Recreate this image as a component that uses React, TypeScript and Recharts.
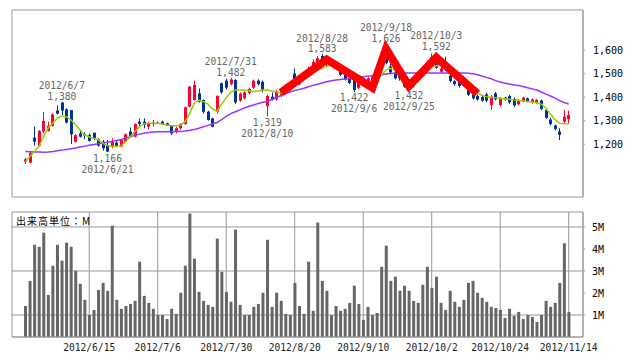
import { ComposedChart, Bar, Line, XAxis, YAxis, CartesianGrid, ReferenceDot } from 'recharts'

// trading days, 2012/5/28 - 2012/11/14
const monthDays: [number, number[]][] = [
  [5, [28, 29, 30, 31]],
  [6, [1, 4, 5, 6, 7, 8, 11, 12, 13, 14, 15, 18, 19, 20, 21, 22, 25, 26, 27, 28, 29]],
  [7, [2, 3, 4, 5, 6, 9, 10, 11, 12, 13, 17, 18, 19, 20, 23, 24, 25, 26, 27, 30, 31]],
  [8, [1, 2, 3, 6, 7, 8, 9, 10, 13, 14, 15, 16, 17, 20, 21, 22, 23, 24, 27, 28, 29, 30, 31]],
  [9, [3, 4, 5, 6, 7, 10, 11, 12, 13, 14, 18, 19, 20, 21, 24, 25, 26, 27, 28]],
  [10, [1, 2, 3, 4, 5, 9, 10, 11, 12, 15, 16, 17, 18, 19, 22, 23, 24, 25, 26, 29, 30, 31]],
  [11, [1, 2, 5, 6, 7, 8, 9, 12, 13, 14]],
]
const dates = monthDays.flatMap(([m, ds]) => ds.map((d) => `2012/${m}/${d}`))

const tickDates = ['2012/6/15', '2012/7/6', '2012/7/30', '2012/8/20', '2012/9/10', '2012/10/2', '2012/10/24', '2012/11/14']
const priceTicks = [1200, 1300, 1400, 1500, 1600]
const volTicks = [1, 2, 3, 4, 5]

const opens = [
  1125, 1122, 1228, 1194, 1254, 1256, 1278, 1343, 1377, 1348,
  1345, 1211, 1246, 1243, 1239, 1249, 1221, 1211, 1197, 1190,
  1207, 1190, 1211, 1254, 1232, 1296, 1296, 1275, 1285, 1292,
  1296, 1289, 1278, 1254, 1268, 1286, 1360, 1388, 1416, 1388,
  1338, 1310, 1338, 1459, 1470, 1455, 1473, 1385, 1395, 1418,
  1440, 1470, 1465, 1362, 1402, 1390, 1405, 1420, 1430, 1500,
  1455, 1480, 1495, 1520, 1545, 1575, 1555, 1540, 1545, 1515,
  1495, 1480, 1500, 1440, 1455, 1460, 1470, 1480, 1520, 1590,
  1530, 1505, 1500, 1470, 1455, 1445, 1470, 1495, 1520, 1545,
  1550, 1508, 1535, 1490, 1468, 1465, 1485, 1440, 1412, 1405,
  1400, 1412, 1367, 1416, 1367, 1398, 1405, 1392, 1370, 1384,
  1395, 1378, 1376, 1386, 1345, 1305, 1280, 1254, 1296, 1306,
]
const highs = [
  1143, 1169, 1275, 1260, 1337, 1296, 1331, 1365, 1380, 1353,
  1345, 1242, 1256, 1250, 1246, 1249, 1225, 1218, 1218, 1225,
  1218, 1221, 1246, 1271, 1289, 1310, 1310, 1296, 1303, 1296,
  1300, 1292, 1282, 1275, 1289, 1360, 1447, 1470, 1437, 1390,
  1342, 1312, 1408, 1462, 1478, 1482, 1476, 1420, 1425, 1440,
  1475, 1476, 1470, 1410, 1420, 1430, 1440, 1450, 1470, 1522,
  1490, 1510, 1530, 1560, 1575, 1583, 1560, 1560, 1550, 1520,
  1500, 1490, 1502, 1470, 1480, 1485, 1490, 1530, 1580, 1626,
  1540, 1510, 1505, 1480, 1470, 1480, 1510, 1525, 1555, 1585,
  1592, 1530, 1572, 1495, 1472, 1470, 1490, 1445, 1418, 1410,
  1405, 1418, 1409, 1422, 1400, 1402, 1410, 1398, 1392, 1402,
  1398, 1395, 1392, 1390, 1350, 1312, 1284, 1268, 1346, 1343,
]
const lows = [
  1116, 1119, 1194, 1190, 1246, 1254, 1275, 1326, 1324, 1289,
  1201, 1207, 1228, 1222, 1211, 1218, 1190, 1173, 1166, 1183,
  1190, 1187, 1207, 1229, 1229, 1275, 1268, 1263, 1275, 1285,
  1282, 1278, 1239, 1246, 1261, 1283, 1357, 1385, 1377, 1330,
  1300, 1272, 1330, 1415, 1432, 1450, 1370, 1380, 1390, 1412,
  1435, 1450, 1420, 1319, 1385, 1385, 1400, 1415, 1428, 1450,
  1450, 1475, 1490, 1515, 1540, 1545, 1530, 1535, 1515, 1490,
  1470, 1455, 1422, 1435, 1450, 1455, 1465, 1475, 1515, 1540,
  1500, 1475, 1470, 1440, 1432, 1440, 1465, 1490, 1515, 1540,
  1520, 1500, 1515, 1462, 1448, 1440, 1455, 1405, 1390, 1385,
  1380, 1378, 1346, 1386, 1360, 1385, 1372, 1358, 1365, 1378,
  1378, 1372, 1372, 1346, 1308, 1280, 1258, 1218, 1289, 1289,
]
const closes = [
  1136, 1162, 1211, 1256, 1299, 1279, 1327, 1330, 1343, 1292,
  1242, 1239, 1232, 1237, 1214, 1225, 1194, 1183, 1169, 1211,
  1193, 1218, 1242, 1232, 1286, 1286, 1282, 1289, 1292, 1290,
  1286, 1280, 1246, 1268, 1286, 1357, 1445, 1452, 1381, 1338,
  1303, 1275, 1405, 1420, 1440, 1475, 1378, 1415, 1420, 1435,
  1470, 1455, 1430, 1405, 1392, 1425, 1430, 1445, 1460, 1460,
  1480, 1500, 1520, 1550, 1565, 1555, 1540, 1550, 1520, 1495,
  1475, 1460, 1430, 1465, 1470, 1480, 1485, 1520, 1570, 1545,
  1505, 1480, 1480, 1445, 1440, 1470, 1500, 1520, 1545, 1570,
  1525, 1522, 1520, 1468, 1455, 1448, 1460, 1410, 1395, 1390,
  1385, 1385, 1402, 1391, 1395, 1390, 1378, 1365, 1386, 1398,
  1383, 1390, 1388, 1350, 1312, 1286, 1265, 1240, 1317, 1324,
]
const ma5 = [
  1126, 1147, 1169, 1190, 1232, 1268, 1289, 1310, 1320, 1317,
  1303, 1282, 1261, 1239, 1232, 1225, 1218, 1204, 1194, 1190,
  1190, 1193, 1211, 1232, 1254, 1275, 1286, 1289, 1289, 1289,
  1286, 1282, 1278, 1278, 1282, 1296, 1331, 1374, 1388, 1381,
  1370, 1350, 1340, 1370, 1398, 1420, 1430, 1430, 1430, 1427,
  1424, 1426, 1430, 1430, 1426, 1423, 1418, 1425, 1440, 1455,
  1466, 1478, 1488, 1502, 1515, 1522, 1530, 1536, 1543, 1530,
  1515, 1508, 1495, 1487, 1475, 1466, 1462, 1473, 1495, 1515,
  1522, 1515, 1500, 1480, 1473, 1476, 1480, 1495, 1512, 1529,
  1533, 1536, 1526, 1515, 1500, 1487, 1470, 1452, 1435, 1416,
  1408, 1402, 1400, 1397, 1395, 1393, 1391, 1388, 1386, 1384,
  1381, 1379, 1376, 1370, 1353, 1328, 1305, 1289, 1287, 1286,
]
const ma25 = [
  1169, 1168, 1167, 1167, 1166, 1167, 1169, 1172, 1175, 1178,
  1181, 1184, 1188, 1192, 1196, 1199, 1202, 1205, 1208, 1212,
  1216, 1220, 1226, 1232, 1238, 1243, 1247, 1250, 1252, 1253,
  1253, 1253, 1253, 1254, 1254, 1256, 1259, 1263, 1268, 1274,
  1280, 1286, 1292, 1305, 1318, 1330, 1338, 1346, 1354, 1361,
  1367, 1373, 1378, 1382, 1390, 1398, 1407, 1415, 1422, 1428,
  1433, 1438, 1444, 1450, 1455, 1460, 1465, 1470, 1473, 1475,
  1477, 1479, 1481, 1484, 1487, 1489, 1491, 1493, 1495, 1498,
  1500, 1501, 1501, 1502, 1502, 1502, 1502, 1502, 1502, 1502,
  1502, 1502, 1502, 1502, 1502, 1502, 1502, 1501, 1499, 1495,
  1490, 1484, 1478, 1470, 1464, 1459, 1456, 1452, 1449, 1445,
  1440, 1435, 1430, 1422, 1413, 1405, 1396, 1385, 1377, 1371,
]
// volume, millions
const volumes = [
  1.41, 2.55, 4.19, 4.1, 4.74, 1.91, 3.24, 4.19, 3.47, 4.29,
  4.1, 3.01, 2.42, 1.69, 1.0, 1.23, 2.14, 2.46, 2.1, 5.06,
  1.69, 1.28, 1.41, 1.5, 1.64, 3.42, 1.87, 1.55, 1.28, 1.0,
  1.0, 0.82, 1.28, 1.05, 2.01, 3.24, 5.61, 3.56, 2.05, 1.64,
  1.46, 1.37, 4.47, 2.96, 2.05, 1.6, 4.88, 1.46, 1.0, 1.0,
  1.37, 1.5, 2.01, 4.42, 1.37, 2.01, 1.64, 1.05, 1.0, 2.46,
  1.41, 1.05, 3.42, 1.19, 5.2, 2.55, 2.1, 0.99, 1.41, 1.19,
  1.28, 1.55, 2.33, 1.5, 0.78, 1.37, 1.0, 1.09, 3.19, 4.15,
  2.55, 2.74, 2.1, 2.33, 2.1, 1.64, 1.55, 2.37, 3.19, 2.23,
  2.74, 1.55, 1.23, 2.1, 1.6, 1.37, 1.69, 2.46, 2.55, 2.01,
  1.78, 1.6, 1.37, 1.32, 1.23, 0.87, 1.28, 0.96, 1.14, 0.82,
  1.0, 0.91, 0.68, 1.0, 1.64, 1.37, 1.55, 2.46, 4.26, 1.14,
]

// hand drawn triple top line
const zigzag: Record<string, number> = {
  '2012/8/15': 1420,
  '2012/8/29': 1560,
  '2012/9/12': 1440,
  '2012/9/18': 1605,
  '2012/9/25': 1447,
  '2012/10/3': 1568,
  '2012/10/17': 1415,
}

const marks = [
  { date: '2012/6/7', value: 1380, kind: 'high' },
  { date: '2012/6/21', value: 1166, kind: 'low' },
  { date: '2012/7/31', value: 1482, kind: 'high' },
  { date: '2012/8/10', value: 1319, kind: 'low' },
  { date: '2012/8/28', value: 1583, kind: 'high' },
  { date: '2012/9/6', value: 1422, kind: 'low' },
  { date: '2012/9/18', value: 1626, kind: 'high' },
  { date: '2012/9/25', value: 1432, kind: 'low' },
  { date: '2012/10/3', value: 1592, kind: 'high' },
]

const UP = '#ff0033'
const DOWN = '#003399'
const GRID = '#999999'
const MONO = "'DejaVu Sans Mono', monospace"

const priceData = dates.map((date, i) => ({
  date,
  range: [lows[i], highs[i]],
  open: opens[i],
  high: highs[i],
  low: lows[i],
  close: closes[i],
  ma5: ma5[i],
  ma25: ma25[i],
  zz: zigzag[date] ?? null,
}))
const volData = dates.map((date, i) => ({ date, vol: volumes[i] }))

function Candle(props: any) {
  const { x, y, width, height, payload } = props
  const { open, close, high, low } = payload
  const top = Math.min(y, y + height)
  const h = Math.abs(height)
  const py = (v: number) => top + ((high - v) / (high - low || 1)) * h
  const cx = Math.floor(x + width / 2)
  const color = close >= open ? UP : DOWN
  const bt = py(Math.max(open, close))
  const bb = py(Math.min(open, close))
  return (
    <g>
      <rect x={cx} y={top} width={1} height={Math.max(1, h)} fill={color} />
      <rect x={cx - 1} y={bt} width={3} height={Math.max(1, bb - bt)} fill={color} />
    </g>
  )
}

function MarkLabel(props: any) {
  const { viewBox, date, value, kind } = props
  if (!viewBox) return null
  const cx = viewBox.x + viewBox.width / 2
  const cy = viewBox.y + viewBox.height / 2
  const num = value.toLocaleString('en-US')
  const style = { fontFamily: MONO, fontSize: 9.6, fill: '#666666' }
  const y1 = kind === 'high' ? cy - 12.5 : cy + 9.5
  const y2 = kind === 'high' ? cy - 2 : cy + 20.5
  return (
    <g>
      <text x={cx} y={y1} textAnchor="middle" style={style}>{kind === 'high' ? date : num}</text>
      <text x={cx} y={y2} textAnchor="middle" style={style}>{kind === 'high' ? num : date}</text>
    </g>
  )
}

const pad = { left: 11, right: 12 }

export default function App() {
  return (
    <div style={{ position: 'absolute', left: 0, top: 0, width: 638, height: 362, background: '#fff' }}>
      <div style={{ position: 'absolute', left: 0, top: 0 }}>
        <ComposedChart width={638} height={200} data={priceData} margin={{ top: 10, right: 0, bottom: 3, left: 12 }}>
          <CartesianGrid stroke={GRID} />
          <XAxis dataKey="date" ticks={tickDates} interval={0} padding={pad} height={0} tick={false} tickLine={false} axisLine={{ stroke: GRID }} />
          <XAxis xAxisId="top" dataKey="date" orientation="top" padding={pad} height={0} tick={false} tickLine={false} axisLine={{ stroke: GRID }} />
          <YAxis yAxisId="left" orientation="left" width={0} tick={false} tickLine={false} axisLine={{ stroke: GRID }} />
          <YAxis
            yAxisId="p"
            orientation="right"
            width={55}
            domain={[976, 1770]}
            ticks={priceTicks}
            tickFormatter={(v: number) => v.toLocaleString('en-US')}
            tickSize={2}
            tickMargin={8}
            tickLine={{ stroke: GRID }}
            axisLine={{ stroke: GRID }}
            tick={{ fontFamily: MONO, fontSize: 10, fill: '#000' }}
          />
          <Bar yAxisId="p" dataKey="range" barSize={3} shape={(p: any) => <Candle {...p} />} isAnimationActive={false} />
          <Line yAxisId="p" dataKey="ma25" stroke="#9933ff" strokeWidth={1.5} dot={false} type="linear" isAnimationActive={false} />
          <Line yAxisId="p" dataKey="ma5" stroke="#99cc00" strokeWidth={1.5} dot={false} type="linear" isAnimationActive={false} />
          <Line yAxisId="p" dataKey="zz" stroke="#ff0000" strokeWidth={8} strokeLinejoin="miter" dot={false} type="linear" connectNulls isAnimationActive={false} />
          {marks.map((m) => (
            <ReferenceDot
              key={m.date}
              yAxisId="p"
              x={m.date}
              y={m.value}
              r={2}
              fill="none"
              stroke="none"
              label={<MarkLabel date={m.date} value={m.value} kind={m.kind} />}
            />
          ))}
        </ComposedChart>
      </div>
      <div style={{ position: 'absolute', left: 0, top: 200 }}>
        <ComposedChart width={638} height={162} data={volData} margin={{ top: 12, right: 0, bottom: 0, left: 12 }}>
          <CartesianGrid stroke={GRID} />
          <XAxis
            dataKey="date"
            ticks={tickDates}
            interval={0}
            padding={pad}
            height={25}
            tickSize={0}
            tickMargin={7}
            tickLine={false}
            axisLine={{ stroke: GRID }}
            tick={{ fontFamily: MONO, fontSize: 9.6, fill: '#222' }}
          />
          <XAxis xAxisId="top" dataKey="date" orientation="top" padding={pad} height={0} tick={false} tickLine={false} axisLine={{ stroke: GRID }} />
          <YAxis yAxisId="left" orientation="left" width={0} tick={false} tickLine={false} axisLine={{ stroke: GRID }} />
          <YAxis
            orientation="right"
            width={55}
            domain={[0, 5.68]}
            ticks={volTicks}
            tickFormatter={(v: number) => `${v}M`}
            tickSize={2}
            tickMargin={7}
            tickLine={{ stroke: GRID }}
            axisLine={{ stroke: GRID }}
            tick={{ fontFamily: MONO, fontSize: 10, fill: '#000' }}
          />
          <Bar dataKey="vol" fill="#666666" barSize={3} isAnimationActive={false} />
        </ComposedChart>
        <div
          style={{
            position: 'absolute',
            left: 16,
            top: 16,
            fontFamily: "'Noto Sans CJK JP', sans-serif",
            fontSize: 10,
            lineHeight: '10px',
            letterSpacing: 1,
            color: '#000',
          }}
        >
          出来高単位：M
        </div>
      </div>
    </div>
  )
}
